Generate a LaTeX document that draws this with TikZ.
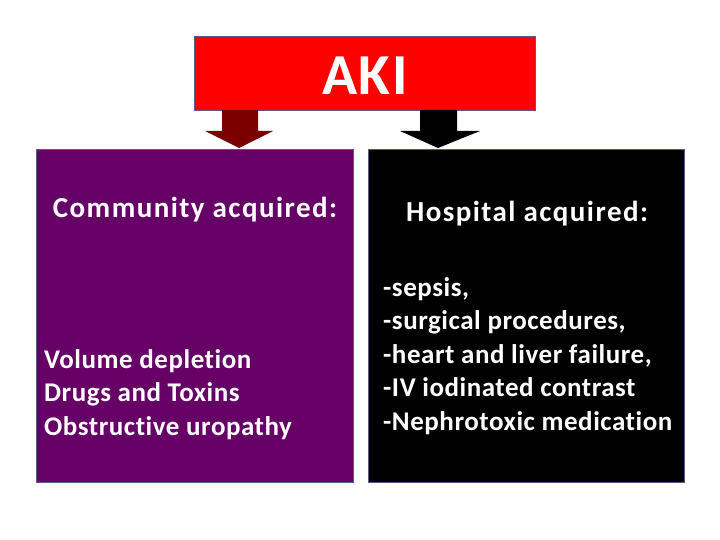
\documentclass[tikz,border=0pt]{standalone}
\usepackage{fontspec}
\setmainfont{Carlito}[Ligatures=NoCommon]
\begin{document}
\begin{tikzpicture}[x=1pt,y=-1pt,
  box/.style={draw=black!40!blue!30!gray, line width=0.8pt, inner sep=0pt},
  txt/.style={text=white, font=\bfseries\fontsize{27}{33.5}\selectfont\addfontfeatures{LetterSpace=2}, inner sep=0pt},
  head/.style={text=white, font=\bfseries\fontsize{29}{34}\selectfont\addfontfeatures{LetterSpace=5}, inner sep=0pt}]
\definecolor{akired}{HTML}{FF0000}
\definecolor{purp}{HTML}{660066}
\definecolor{darkarrow}{HTML}{7A0000}
\useasboundingbox (0,0) rectangle (720,540);
\fill[white] (0,0) rectangle (720,540);
% AKI box
\node[box, fill=akired, minimum width=341pt, minimum height=74pt] (aki) at (364.5,73) {};
\node[text=white, font=\bfseries\fontsize{58}{60}\selectfont\addfontfeatures{LetterSpace=3}, inner sep=0pt] (akit) at (365,76) {AKI};
% boxes
\node[box, fill=purp, minimum width=317pt, minimum height=333pt] (left) at (194.5,315.5) {};
\node[box, fill=black, minimum width=316pt, minimum height=333pt] (right) at (526,315.5) {};
% arrows
\fill[darkarrow] (222,110) -- (258,110) -- (258,131) -- (273,131) -- (239,148) -- (205,131) -- (222,131) -- cycle;
\fill[black] (420,110) -- (457,110) -- (457,131) -- (480,131) -- (438,148) -- (400,131) -- (420,131) -- cycle;
% texts
\node[head] (lh) at (195,210) {Community acquired:};
\node[txt, anchor=north west, align=left] (ll) at (44,349) {Volume depletion\\Drugs and Toxins\\Obstructive uropathy};
\node[head] (rh) at (527,214) {Hospital acquired:};
\node[txt, anchor=north west, align=left] (rl) at (383,277) {-sepsis,\\-surgical procedures,\\-heart and liver failure,\\-IV iodinated contrast\\-Nephrotoxic medication};
\end{tikzpicture}
\end{document}
